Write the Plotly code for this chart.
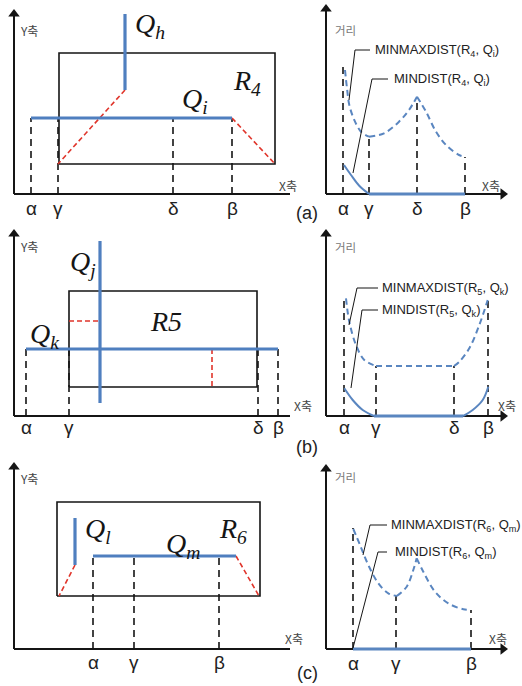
import plotly.graph_objects as go

# ------------------------------------------------------------------
# Data (local coordinates: x measured from the Y axis, y up from the X axis)
# ------------------------------------------------------------------
# Panel (a) left
aL_greek = ["α", "γ", "δ", "β"]
aL_greek_x = [17, 44, 159, 218]
aL_drop_top = [76, 76, 76, 76]
R4_x = [45, 261]
R4_y = [30, 141]
Qh_x = [111, 111]
Qh_y = [104, 180]
Qi_x = [17, 218]
Qi_y = [76, 76]
aL_red1_x = [111, 44]
aL_red1_y = [104, 30]
aL_red2_x = [218, 261]
aL_red2_y = [76, 30]

# Panel (a) right
aR_greek = ["α", "γ", "δ", "β"]
aR_greek_x = [17, 43, 91, 139]
aR_drop_top = [127, 57, 97, 37]
aR_mm1_x = [19, 21, 23.3, 28.3, 35, 43]
aR_mm1_y = [124, 105.7, 89, 74, 62.3, 57.3]
aR_mm2_x = [43, 58, 73, 83, 91]
aR_mm2_y = [57.3, 60.7, 72.3, 84, 97.3]
aR_mm3_x = [91, 100, 110, 120, 133, 139]
aR_mm3_y = [97.3, 82.3, 62.3, 49, 39, 37.3]
aR_md1_x = [18, 25, 33, 43]
aR_md1_y = [29, 19, 8.5, 0]
aR_md2_x = [43, 139]
aR_md2_y = [0, 0]

# Panel (b) left
bL_greek = ["α", "γ", "δ", "β"]
bL_greek_x = [12, 55, 244, 264]
bL_drop_top = [67, 67, 67, 67]
R5_x = [55, 243]
R5_y = [29, 125]
Qj_x = [86, 86]
Qj_y = [13, 175]
Qk_x = [12, 264]
Qk_y = [67, 67]
bL_red1_x = [55, 86]
bL_red1_y = [95, 95]
bL_red2_x = [198, 198]
bL_red2_y = [67, 29]

# Panel (b) right
bR_greek = ["α", "γ", "δ", "β"]
bR_greek_x = [18, 50, 128, 162]
bR_drop_top = [119, 50, 50, 118]
bR_mm1_x = [20, 23.3, 30, 38.3, 50]
bR_mm1_y = [117.7, 94.3, 71, 56, 50]
bR_mm2_x = [50, 128]
bR_mm2_y = [50, 50]
bR_mm3_x = [128, 133.3, 143.3, 153.3, 161.7]
bR_mm3_y = [50, 54.3, 67.7, 91, 116]
bR_md1_x = [18.3, 26.7, 36.7, 48]
bR_md1_y = [27.7, 16, 6, 0]
bR_md2_x = [48, 137]
bR_md2_y = [0, 0]
bR_md3_x = [137, 146.7, 156.7, 162.3]
bR_md3_y = [0, 6, 16, 29.3]

# Panel (c) left
cL_greek = ["α", "γ", "β"]
cL_greek_x = [79, 120, 205]
cL_drop_top = [93, 93, 93]
R6_x = [43, 246]
R6_y = [53, 147]
Ql_x = [61, 61]
Ql_y = [84, 131]
Qm_x = [79, 222]
Qm_y = [93, 93]
cL_red1_x = [61, 45]
cL_red1_y = [84, 53]
cL_red2_x = [222, 245]
cL_red2_y = [93, 53]

# Panel (c) right
cR_greek = ["α", "γ", "β"]
cR_greek_x = [27, 70, 145]
cR_drop_top = [121, 53, 39]
cR_mm1_x = [27.3, 34, 42.3, 52.3, 62.3, 70.7]
cR_mm1_y = [120, 104, 84, 65.7, 55.7, 53]
cR_mm2_x = [70.7, 80.7, 87.3, 90.7]
cR_mm2_y = [53, 62.3, 79, 90.7]
cR_mm3_x = [90.7, 97.3, 109, 122.3, 137.3, 145]
cR_mm3_y = [90.7, 77.3, 57.3, 45.7, 39.7, 39]
cR_md_x = [27, 145]
cR_md_y = [0, 0]

# Curve labels and leader lines
aR_mm_label = "MINMAXDIST(R<sub>4</sub>, Q<sub>i</sub>)"
aR_md_label = "MINDIST(R<sub>4</sub>, Q<sub>i</sub>)"
bR_mm_label = "MINMAXDIST(R<sub>5</sub>, Q<sub>k</sub>)"
bR_md_label = "MINDIST(R<sub>5</sub>, Q<sub>k</sub>)"
cR_mm_label = "MINMAXDIST(R<sub>6</sub>, Q<sub>m</sub>)"
cR_md_label = "MINDIST(R<sub>6</sub>, Q<sub>m</sub>)"
aR_mm_leader = ([44, 29, 23], [144, 144, 94])
aR_md_leader = ([62, 46, 27], [115, 115, 21])
bR_mm_leader = ([52, 31, 23], [128, 128, 91])
bR_md_leader = ([52, 36, 25], [106, 106, 28])
cR_mm_leader = ([61, 44, 37], [124, 124, 94])
cR_md_leader = ([61, 52, 27], [97, 97, 1])

BLUE = "#4f7fbf"
CURVE = "#5a86c0"
RED = "#e0352b"
BLACK = "#151515"

fig = go.Figure()

W, H = 522, 686
panels = {
    "aL": ("x", "y"), "aR": ("x2", "y2"),
    "bL": ("x3", "y3"), "bR": ("x4", "y4"),
    "cL": ("x5", "y5"), "cR": ("x6", "y6"),
}
left_dom, left_rng = [0, 310 / W], [-14, 296]
right_dom, right_rng = [290 / W, 1], [-36, 196]
rows = {
    "a": ([1 - 225 / H, 1], [-31, 194]),
    "b": ([1 - 455 / H, 1 - 225 / H], [-39, 191]),
    "c": ([0, 1 - 455 / H], [-37, 194]),
}
layout_axes = {}
for key, (xa, ya) in panels.items():
    xd, xr = (left_dom, left_rng) if key[1] == "L" else (right_dom, right_rng)
    yd, yr = rows[key[0]]
    xname = "xaxis" if xa == "x" else "xaxis" + xa[1:]
    yname = "yaxis" if ya == "y" else "yaxis" + ya[1:]
    layout_axes[xname] = dict(domain=xd, range=xr, visible=False, fixedrange=True, anchor=ya)
    layout_axes[yname] = dict(domain=yd, range=yr, visible=False, fixedrange=True, anchor=xa)


def line(p, xs, ys, color, width, dash=None, shape="linear"):
    xa, ya = panels[p]
    fig.add_trace(go.Scatter(x=xs, y=ys, mode="lines", xaxis=xa, yaxis=ya,
                             line=dict(color=color, width=width, dash=dash, shape=shape),
                             hoverinfo="skip", showlegend=False))


def head(p, x, y, symbol):
    xa, ya = panels[p]
    fig.add_trace(go.Scatter(x=[x], y=[y], mode="markers", xaxis=xa, yaxis=ya,
                             marker=dict(symbol=symbol, size=10, color=BLACK, line=dict(width=0)),
                             cliponaxis=False, hoverinfo="skip", showlegend=False))


def text(p, x, y, t, size, color=BLACK, family="Liberation Sans", xanchor="center"):
    xa, ya = panels[p]
    fig.add_annotation(x=x, y=y, xref=xa, yref=ya, text=t, showarrow=False,
                       xanchor=xanchor, yanchor="middle",
                       font=dict(size=size, color=color, family=family))


def rect(p, rx, ry):
    line(p, [rx[0], rx[1], rx[1], rx[0], rx[0]], [ry[0], ry[0], ry[1], ry[1], ry[0]], BLACK, 1.6)


def drops(p, xs, tops):
    for x, t in zip(xs, tops):
        line(p, [x, x], [0, t], BLACK, 1.6, dash="7px,5px")


def greek(p, xs, labels, y):
    for x, g in zip(xs, labels):
        text(p, x, y, g, 19, "#222")


KFONT = "Noto Sans CJK KR"
LBL = 13

# axes frames with arrow heads
axis_tips = {
    "aL": (294, 184), "aR": (181, 189),
    "bL": (294, 186), "bR": (181, 186),
    "cL": (294, 186), "cR": (181, 184),
}
for p, (tx, ty) in axis_tips.items():
    line(p, [0, tx - 4], [0, 0], BLACK, 2)
    line(p, [0, 0], [0, ty - 4], BLACK, 2)
    head(p, tx - 4, 0, "triangle-right")
    head(p, 0, ty - 4, "triangle-up")

# ---------------- panel (a) left ----------------
rect("aL", R4_x, R4_y)
drops("aL", aL_greek_x, aL_drop_top)
line("aL", aL_red1_x, aL_red1_y, RED, 1.6, dash="5px,3px")
line("aL", aL_red2_x, aL_red2_y, RED, 1.6, dash="5px,3px")
line("aL", Qh_x, Qh_y, BLUE, 3.2)
line("aL", Qi_x, Qi_y, BLUE, 3.2)
greek("aL", aL_greek_x, aL_greek, -14)
text("aL", 4, 164, "Y축", 12, "#444", KFONT, "left")
text("aL", 263, 9, "X축", 12, "#444", KFONT, "left")
text("aL", 136, 169, "<i>Q<sub>h</sub></i>", 28, BLACK, "Liberation Serif")
text("aL", 233, 112, "<i>R<sub>4</sub></i>", 28, BLACK, "Liberation Serif")
text("aL", 181, 94, "<i>Q<sub>i</sub></i>", 28, BLACK, "Liberation Serif")

# ---------------- panel (a) right ----------------
drops("aR", aR_greek_x, aR_drop_top)
line("aR", aR_mm1_x, aR_mm1_y, CURVE, 2, dash="6px,4px", shape="spline")
line("aR", aR_mm2_x, aR_mm2_y, CURVE, 2, dash="6px,4px", shape="spline")
line("aR", aR_mm3_x, aR_mm3_y, CURVE, 2, dash="6px,4px", shape="spline")
line("aR", aR_md1_x, aR_md1_y, CURVE, 2, shape="spline")
line("aR", aR_md2_x, aR_md2_y, CURVE, 3)
line("aR", *aR_mm_leader, BLACK, 1)
line("aR", *aR_md_leader, BLACK, 1)
text("aR", 47, 144, aR_mm_label, LBL, "#222", "Liberation Sans", "left")
text("aR", 66, 115, aR_md_label, LBL, "#222", "Liberation Sans", "left")
greek("aR", aR_greek_x, aR_greek, -14)
text("aR", 7, 164, "거리", 11.5, "#777", KFONT, "left")
text("aR", 154, 9, "X축", 12, "#444", KFONT, "left")

# ---------------- panel (b) left ----------------
rect("bL", R5_x, R5_y)
drops("bL", bL_greek_x, bL_drop_top)
line("bL", bL_red1_x, bL_red1_y, RED, 1.6, dash="5px,3px")
line("bL", bL_red2_x, bL_red2_y, RED, 1.6, dash="5px,3px")
line("bL", Qj_x, Qj_y, BLUE, 3.2)
line("bL", Qk_x, Qk_y, BLUE, 3.2)
greek("bL", bL_greek_x, bL_greek, -11)
text("bL", 4, 169, "Y축", 12, "#444", KFONT, "left")
text("bL", 278, 11, "X축", 12, "#444", KFONT, "left")
text("bL", 69, 153, "<i>Q<sub>j</sub></i>", 28, BLACK, "Liberation Serif")
text("bL", 30, 81, "<i>Q<sub>k</sub></i>", 28, BLACK, "Liberation Serif")
text("bL", 152, 95, "<i>R5</i>", 28, BLACK, "Liberation Serif")

# ---------------- panel (b) right ----------------
drops("bR", bR_greek_x, bR_drop_top)
line("bR", bR_mm1_x, bR_mm1_y, CURVE, 2, dash="6px,4px", shape="spline")
line("bR", bR_mm2_x, bR_mm2_y, CURVE, 2, dash="6px,4px")
line("bR", bR_mm3_x, bR_mm3_y, CURVE, 2, dash="6px,4px", shape="spline")
line("bR", bR_md1_x, bR_md1_y, CURVE, 2, shape="spline")
line("bR", bR_md2_x, bR_md2_y, CURVE, 3)
line("bR", bR_md3_x, bR_md3_y, CURVE, 2, shape="spline")
line("bR", *bR_mm_leader, BLACK, 1)
line("bR", *bR_md_leader, BLACK, 1)
text("bR", 54, 128, bR_mm_label, LBL, "#222", "Liberation Sans", "left")
text("bR", 54, 106, bR_md_label, LBL, "#222", "Liberation Sans", "left")
greek("bR", bR_greek_x, bR_greek, -11)
text("bR", 7, 169, "거리", 11.5, "#777", KFONT, "left")
text("bR", 170, 11, "X축", 12, "#444", KFONT, "left")

# ---------------- panel (c) left ----------------
rect("cL", R6_x, R6_y)
drops("cL", cL_greek_x, cL_drop_top)
line("cL", cL_red1_x, cL_red1_y, RED, 1.6, dash="5px,3px")
line("cL", cL_red2_x, cL_red2_y, RED, 1.6, dash="5px,3px")
line("cL", Ql_x, Ql_y, BLUE, 3.2)
line("cL", Qm_x, Qm_y, BLUE, 3.2)
greek("cL", cL_greek_x, cL_greek, -13)
text("cL", 4, 171, "Y축", 12, "#444", KFONT, "left")
text("cL", 269, 11, "X축", 12, "#444", KFONT, "left")
text("cL", 84, 119, "<i>Q<sub>l</sub></i>", 28, BLACK, "Liberation Serif")
text("cL", 169, 104, "<i>Q<sub>m</sub></i>", 28, BLACK, "Liberation Serif")
text("cL", 219, 119, "<i>R<sub>6</sub></i>", 28, BLACK, "Liberation Serif")

# ---------------- panel (c) right ----------------
drops("cR", cR_greek_x, cR_drop_top)
line("cR", cR_mm1_x, cR_mm1_y, CURVE, 2, dash="6px,4px", shape="spline")
line("cR", cR_mm2_x, cR_mm2_y, CURVE, 2, dash="6px,4px", shape="spline")
line("cR", cR_mm3_x, cR_mm3_y, CURVE, 2, dash="6px,4px", shape="spline")
line("cR", cR_md_x, cR_md_y, CURVE, 3)
line("cR", *cR_mm_leader, BLACK, 1)
line("cR", *cR_md_leader, BLACK, 1)
text("cR", 63, 124, cR_mm_label, LBL, "#222", "Liberation Sans", "left")
text("cR", 67, 97, cR_md_label, LBL, "#222", "Liberation Sans", "left")
greek("cR", cR_greek_x, cR_greek, -14)
text("cR", 7, 172, "거리", 11.5, "#777", KFONT, "left")
text("cR", 161, 11, "X축", 12, "#444", KFONT, "left")

# sub-figure captions
captions = ["(a)", "(b)", "(c)"]
caption_y = [213, 447, 673]
for c, yy in zip(captions, caption_y):
    fig.add_annotation(x=307 / W, y=1 - yy / H, xref="paper", yref="paper", text=c,
                       showarrow=False, xanchor="center", yanchor="middle",
                       font=dict(size=18, color="#222", family="Liberation Sans"))

fig.update_layout(width=W, height=H, margin=dict(l=0, r=0, t=0, b=0),
                  paper_bgcolor="white", plot_bgcolor="white", showlegend=False,
                  **layout_axes)
fig.write_html("out.html", config={"displayModeBar": False},
               post_script="document.body.style.margin='0';document.body.style.overflow='hidden';")
